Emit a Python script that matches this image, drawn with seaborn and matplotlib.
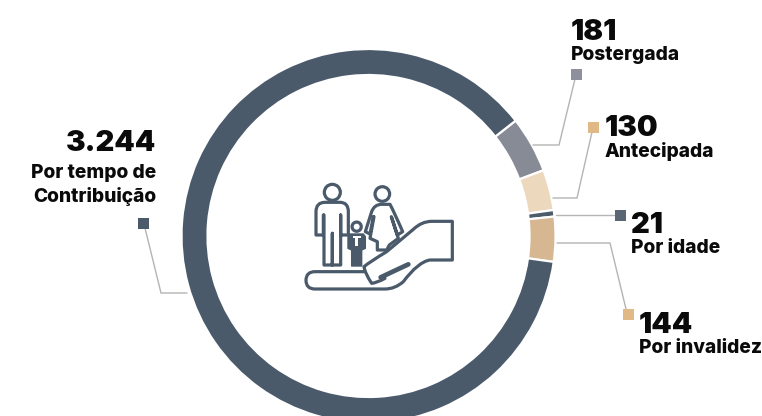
import matplotlib
matplotlib.use("Agg")
import matplotlib.pyplot as plt
from matplotlib.patches import Circle, PathPatch, Rectangle
from matplotlib.path import Path
import seaborn as sns

# Aposentadorias por tipo
categories = ["Postergada", "Antecipada", "Por idade", "Por invalidez", "Por tempo de\nContribuição"]
value_labels = ["181", "130", "21", "144", "3.244"]
values = [181, 130, 21, 144, 3244]
ring_colors = ["#878b96", "#ecd9bd", "#4d5c6b", "#d7b792", "#4a5a6a"]
marker_colors = ["#8e919d", "#e0b986", "#5a6673", "#e0b986", "#4a5a6a"]

W, H = 762, 416
DARK = "#4a5a6a"
LINE = "#b4b4b4"
INK = "#0a0a0a"
FONT = "Inter"

sns.set_theme(style="white", rc={"font.family": FONT})
fig = plt.figure(figsize=(W / 100, H / 100), dpi=100, facecolor="white")
ax = fig.add_axes([0, 0, 1, 1])


def yy(y):
    """Pixel row measured from the top, converted to axes units."""
    return H - y


# Donut ring
ax.pie(
    values,
    colors=sns.color_palette(ring_colors),
    startangle=38.1,
    counterclock=False,
    center=(368.5, yy(236)),
    radius=187,
    wedgeprops={"width": 26, "edgecolor": "white", "linewidth": 1.6},
)
ax.set_xlim(0, W)
ax.set_ylim(0, H)
ax.set_aspect("equal")
ax.axis("off")

# Callouts: leader polyline, square marker, value and label
leaders = [
    [(533, 145), (559, 145), (575, 79)],
    [(553, 198), (577, 198), (592, 132)],
    [(556, 215), (615, 215)],
    [(557, 243), (610, 243), (626, 309)],
    [(187, 293), (161, 293), (145, 228)],
]
squares = [(576, 74), (593, 127), (620, 215), (628, 314), (143, 223)]
text_pos = [(571, 40, 60), (605, 136, 157), (631, 233, 253), (639, 333, 353), (156, 151, 178)]
VALUE_SIZE = 21
LABEL_SIZE = 13.8

for i, cat in enumerate(categories):
    xs = [p[0] for p in leaders[i]]
    ys = [yy(p[1]) for p in leaders[i]]
    ax.plot(xs, ys, color=LINE, lw=1.0, solid_joinstyle="miter", zorder=2)
    sx, sy = squares[i]
    ax.add_patch(Rectangle((sx - 5.5, yy(sy) - 5.5), 11, 11, facecolor=marker_colors[i], edgecolor="none", zorder=3))
    tx, vy, ly = text_pos[i]
    right = i == 4
    ha = "right" if right else "left"
    ax.text(tx, yy(vy), value_labels[i], fontsize=VALUE_SIZE, fontweight=900, color=INK,
            ha=ha, va="baseline", family=FONT)
    if right:
        first, second = cat.split("\n")
        ax.text(tx, yy(ly), first, fontsize=LABEL_SIZE, fontweight=800, color=INK, ha=ha, va="baseline", family=FONT)
        ax.text(tx, yy(202), second, fontsize=LABEL_SIZE, fontweight=800, color=INK, ha=ha, va="baseline", family=FONT)
    else:
        ax.text(tx, yy(ly), cat, fontsize=LABEL_SIZE, fontweight=800, color=INK, ha=ha, va="baseline", family=FONT)


# Central family-in-hand pictogram, drawn on a local grid
def ic(x, y):
    return (290 + x / 3, yy(170 + y / 3))


def stroke(points, codes=None, fill="none", lw=2.3, closed=False, z=5):
    pts = [ic(*p) for p in points]
    if codes is None:
        codes = [Path.MOVETO] + [Path.LINETO] * (len(pts) - 1)
    if closed:
        pts.append(pts[0])
        codes = list(codes) + [Path.CLOSEPOLY]
    ax.add_patch(PathPatch(Path(pts, codes), facecolor=fill, edgecolor=DARK, lw=lw,
                           joinstyle="round", capstyle="round", zorder=z))


M, L, C = Path.MOVETO, Path.LINETO, Path.CURVE3

# Man
ax.add_patch(Circle(ic(127, 67), 8, facecolor="none", edgecolor=DARK, lw=2.3, zorder=5))
stroke(
    [(100, 135), (100, 195), (78, 195), (78, 125), (78, 97), (105, 97), (150, 97), (175, 97), (175, 125),
     (175, 195), (152, 195), (152, 135), (152, 285), (127, 285), (127, 190), (127, 285), (102, 285), (102, 135)],
    [M, L, L, L, C, C, L, C, C, L, L, L, L, L, L, L, L, L],
)
# Woman
ax.add_patch(Circle(ic(277, 72), 7.3, facecolor="none", edgecolor=DARK, lw=2.3, zorder=5))
stroke(
    [(250, 140), (240, 192), (226, 185), (245, 125), (253, 103), (275, 103), (300, 103), (312, 125),
     (338, 185), (322, 195), (304, 140), (325, 205), (298, 225), (290, 240), (262, 240), (262, 215),
     (240, 205), (252, 140)],
    [M, L, L, L, C, C, L, C, C, L, L, L, L, L, L, L, L, L],
)
# Child
ax.add_patch(Circle(ic(200, 170), 4.6, facecolor="none", edgecolor=DARK, lw=2.3, zorder=5))
stroke(
    [(180, 192), (220, 192), (226, 200), (226, 235), (215, 240), (215, 288), (185, 288), (185, 240), (174, 235), (174, 200)],
    fill=DARK, lw=1.0, closed=True,
)
ax.add_patch(PathPatch(
    Path([ic(*p) for p in [(188, 197), (212, 197), (212, 203), (204, 203), (204, 228), (196, 228), (196, 203), (188, 203), (188, 197)]]),
    facecolor="white", edgecolor="none", zorder=6))
# Hand
stroke(
    [(222, 305), (75, 305), (48, 305), (48, 331), (48, 357), (75, 357), (285, 357), (315, 357), (340, 335),
     (385, 275), (420, 270), (487, 270), (487, 154), (425, 154), (395, 154), (370, 178), (290, 245), (240, 275),
     (222, 290), (225, 310), (245, 340), (262, 338), (285, 325)],
    [M, L, C, C, C, C, L, C, C, C, C, L, L, L, C, C, L, C, C, C, C, C, C],
    fill="white", z=7,
)
stroke([(272, 322), (355, 283)], lw=3.4, z=8)

fig.savefig("out.png", dpi=100, facecolor="white")
